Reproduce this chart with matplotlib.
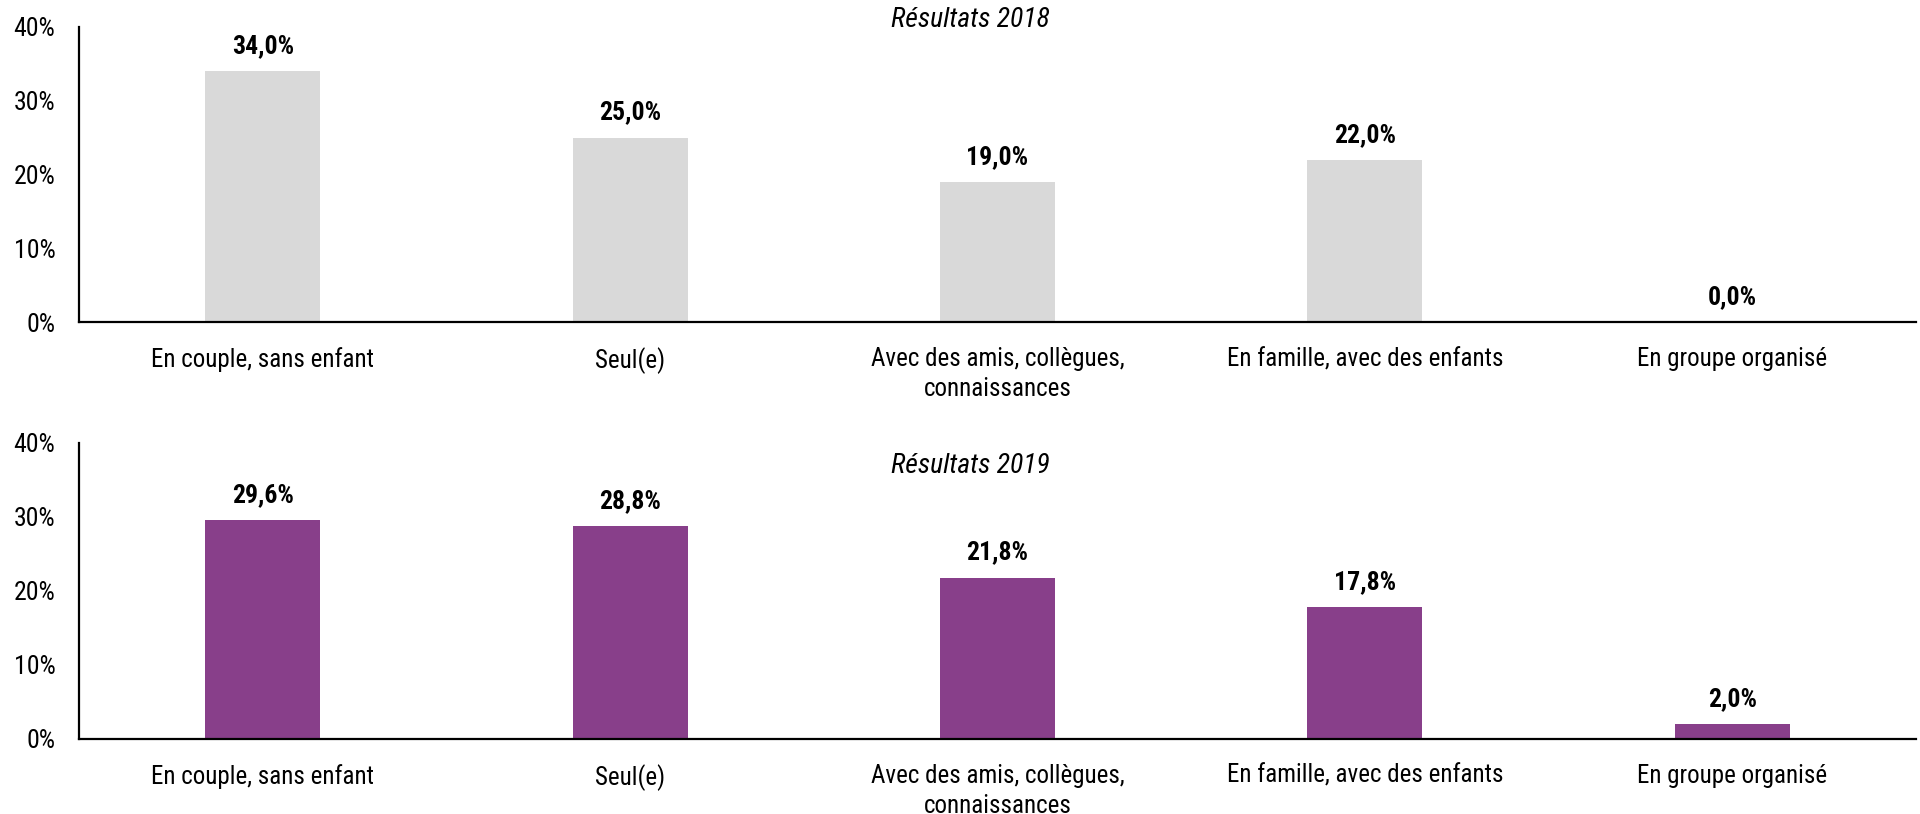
import matplotlib
matplotlib.use("Agg")
import matplotlib.pyplot as plt
from matplotlib.ticker import PercentFormatter

plt.rcParams['font.family'] = ['Roboto Condensed', 'Liberation Sans', 'DejaVu Sans']

categories = ["En couple, sans enfant", "Seul(e)", "Avec des amis, collègues,\nconnaissances",
              "En famille, avec des enfants", "En groupe organisé"]
values_2018 = [34.0, 25.0, 19.0, 22.0, 0.0]
values_2019 = [29.6, 28.8, 21.8, 17.8, 2.0]
titles = ["Résultats 2018", "Résultats 2019"]
colors = ["#D9D9D9", "#883F8A"]
yticks = [0, 10, 20, 30, 40]

W, H = 1920, 814
fig = plt.figure(figsize=(W / 100, H / 100), dpi=100)

# axes rectangles in pixels: (left, top, right, bottom)
rects = [(79, 27, 1916, 322), (79, 443, 1916, 739)]
title_y = [20, 466]

for i, (vals, title, col) in enumerate(zip([values_2018, values_2019], titles, colors)):
    l, t, r, b = rects[i]
    ax = fig.add_axes([l / W, 1 - b / H, (r - l) / W, (b - t) / H])
    x = list(range(len(categories)))
    ax.bar(x, vals, width=0.313, color=col, zorder=2)
    ax.set_xlim(-0.5, len(categories) - 0.5)
    ax.set_ylim(0, 40)
    ax.set_yticks(yticks)
    ax.yaxis.set_major_formatter(PercentFormatter(decimals=0))
    ax.set_xticks(x)
    ax.set_xticklabels(categories, fontsize=18, linespacing=1.3)
    ax.tick_params(axis='y', length=0, pad=17, labelsize=18.5)
    ax.tick_params(axis='x', length=0, pad=18)
    for s in ['top', 'right']:
        ax.spines[s].set_visible(False)
    for s in ['left', 'bottom']:
        ax.spines[s].set_linewidth(1.6)
        ax.spines[s].set_color('black')
    for xi, v in zip(x, vals):
        ax.annotate(f"{v:.1f}%".replace('.', ','), xy=(xi, v), xytext=(0, 13),
                    textcoords='offset pixels', ha='center', va='bottom',
                    fontsize=18.5, fontweight='bold')
    fig.text(970 / W, 1 - title_y[i] / H, title, ha='center', va='center',
             fontsize=20, style='italic')

fig.savefig("out.png", dpi=100)
